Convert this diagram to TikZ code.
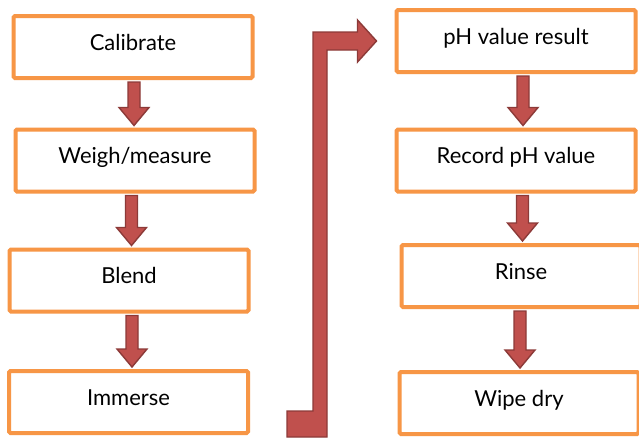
\documentclass[tikz,border=0pt]{standalone}
\usepackage{fontspec}
\setmainfont{Lato}
\usetikzlibrary{calc}
\definecolor{boxorange}{HTML}{F79646}
\definecolor{arrowfill}{HTML}{C0504D}
\definecolor{arrowedge}{HTML}{8C3A38}
\tikzset{
  stepbox/.style={draw=boxorange, line width=4pt, rounded corners=1.5pt, fill=white,
    minimum width=239pt, minimum height=62pt, inner sep=0pt,
    text height=16pt, text depth=10pt, font=\fontsize{22pt}{26pt}\selectfont},
  flowarrow/.style={fill=arrowfill, draw=arrowedge, line width=1.4pt, line join=miter}
}
\newcommand\myblockarrow[3]{%
  \draw[flowarrow] let \p1=($(#1.south)+(#3,0)$), \p2=(#2.north) in
    (\x1-6pt,\y1-2pt) -- (\x1-6pt,\y2+20pt) -- (\x1-15pt,\y2+20pt) -- (\x1,\y2+2pt)
    -- (\x1+15pt,\y2+20pt) -- (\x1+6pt,\y2+20pt) -- (\x1+6pt,\y1-2pt) -- cycle;}
\begin{document}
\begin{tikzpicture}[x=1pt,y=-1pt]
\path[fill=white] (0,0) rectangle (639,437);
\useasboundingbox (0,0) rectangle (639,437);
% left column
\node[stepbox] (cal) at (133,47) {Calibrate};
\node[stepbox] (wei) at (135,160.5) {Weigh/measure};
\node[stepbox] (ble) at (129,280.5) {Blend};
\node[stepbox] (imm) at (128.5,402) {Immerse};
% right column
\node[stepbox] (ph)  at (516,41) {pH value result};
\node[stepbox] (rec) at (516,160.5) {Record pH value};
\node[stepbox] (rin) at (521,276) {Rinse};
\node[stepbox] (wip) at (519,403) {Wipe dry};
% vertical arrows
\myblockarrow{cal}{wei}{1}
\myblockarrow{wei}{ble}{-3.5}
\myblockarrow{ble}{imm}{3}
\myblockarrow{ph}{rec}{7}
\myblockarrow{rec}{rin}{6.5}
\myblockarrow{rin}{wip}{-1}
% elbow arrow from the bottom of the left column to the top of the right column
\draw[flowarrow] let \p1=(ph.west), \p2=(imm.south) in
  (287pt,\y2+24pt) -- (313pt,\y2+24pt) -- (313pt,\y1+9pt) -- (\x1-37pt,\y1+9pt)
  -- (\x1-37pt,\y1+21pt) -- (\x1-18pt,\y1) -- (\x1-37pt,\y1-21pt) -- (\x1-37pt,\y1-9pt)
  -- (327pt,\y1-9pt) -- (327pt,\y2-2pt) -- (287pt,\y2-2pt) -- cycle;
\end{tikzpicture}
\end{document}
